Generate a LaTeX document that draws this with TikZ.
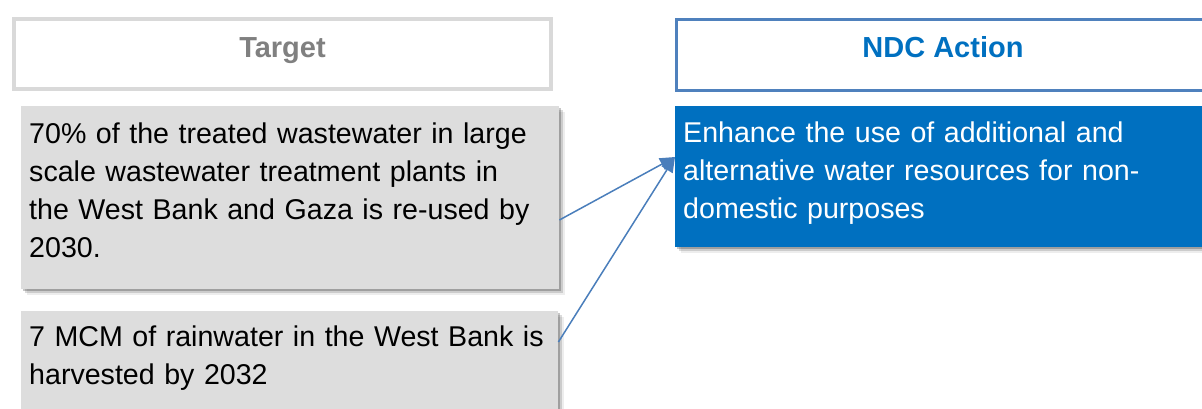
\documentclass[tikz,border=0pt]{standalone}
\usepackage{fontspec}
\setmainfont{Liberation Sans}
\usetikzlibrary{arrows.meta,shadows,calc}
\definecolor{boxgray}{HTML}{DDDDDD}
\definecolor{tgtborder}{HTML}{D9D9D9}
\definecolor{tgttext}{HTML}{808080}
\definecolor{ndcblue}{HTML}{0070C0}
\definecolor{ndcborder}{HTML}{4F81BD}
\definecolor{connblue}{HTML}{4A7EBB}
\begin{document}
\begin{tikzpicture}[x=1pt,y=-1pt,
  softshadow/.style={
    drop shadow={shadow xshift=2pt,shadow yshift=-2pt,opacity=0.22,fill=black},
    drop shadow={shadow xshift=4pt,shadow yshift=-4pt,opacity=0.14,fill=black},
    drop shadow={shadow xshift=6pt,shadow yshift=-6pt,opacity=0.07,fill=black}},
  bodyfont/.style={font=\fontsize{28.6}{38}\selectfont},
  titlebox/.style={anchor=north west,inner sep=0pt,minimum height=70pt,
    font=\fontsize{29}{38}\selectfont\bfseries,text height=12pt,text depth=6pt},
  graybox/.style={anchor=north west,inner sep=0pt,fill=boxgray,softshadow},
  bluebox/.style={anchor=north west,inner sep=0pt,fill=ndcblue,softshadow},
  boxtext/.style={anchor=north west,inner sep=0pt,text width=540pt,align=left,bodyfont},
  conn/.style={draw=connblue,line width=1.5pt,-{Triangle[length=15pt,width=13pt]}}
]
\useasboundingbox (0,0) rectangle (1202,408);

% header boxes
\node[titlebox,draw=tgtborder,line width=4pt,minimum width=537pt,text=tgttext]
  (tgt) at (12,17) {Target};
\node[titlebox,draw=ndcborder,line width=3pt,minimum width=540pt,minimum height=71pt,text=ndcblue]
  (ndc) at (674.5,17.5) {\hspace*{-6pt}NDC Action};

% content boxes
\node[graybox,minimum width=538pt,minimum height=183pt] (box1) at (21,106) {};
\node[graybox,minimum width=537pt,minimum height=183pt] (box2) at (21,311) {};
\node[bluebox,minimum width=540pt,minimum height=141pt] (blue) at (675,106) {};

\node[boxtext] (t1) at (29,116.4) {\strut 70\% of the treated wastewater in large\\
scale wastewater treatment plants in\\
the West Bank and Gaza is re-used by\\
2030.};
\node[boxtext] (t2) at (29,319.4) {\strut 7 MCM of rainwater in the West Bank is\\
harvested by 2032};
\node[boxtext,text=white] (t3) at (683,115.4) {\strut Enhance the use of additional and\\
alternative water resources for non-\\
domestic purposes};

% connectors
\coordinate (s1) at ($(box1.north east)+(0,114)$);
\coordinate (s2) at ($(box2.north east)+(0,31)$);
\coordinate (tip) at ($(blue.north west)+(0,51)$);
\draw[conn] (s1) -- (tip);
\draw[conn] (s2) -- (tip);
\end{tikzpicture}
\end{document}
